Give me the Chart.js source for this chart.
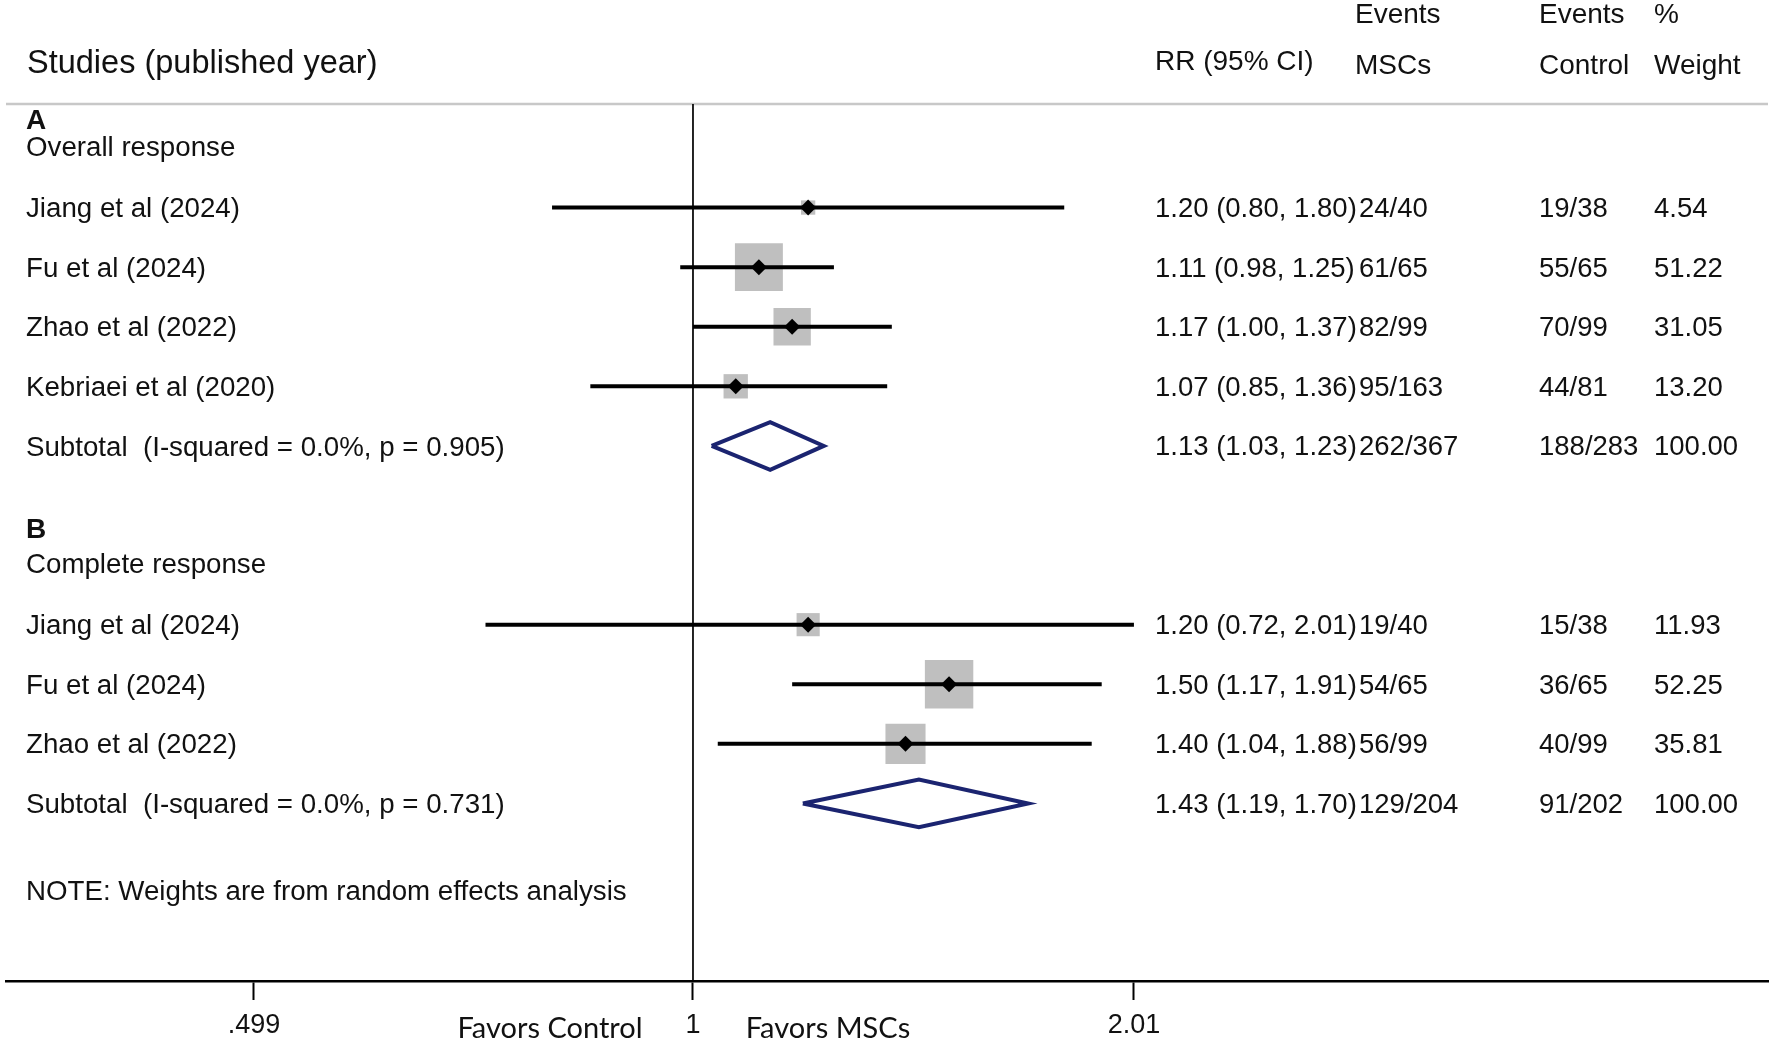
<!DOCTYPE html>
<html>
<head>
<meta charset="utf-8">
<script src="https://cdn.jsdelivr.net/npm/chart.js@4.4.1/dist/chart.umd.min.js"></script>
<style>
  html, body { margin: 0; padding: 0; background: #fff; }
  #wrap { width: 1772px; height: 1043px; position: relative; }
</style>
</head>
<body>
<div id="wrap"><canvas id="forest"></canvas></div>
<script>
// A - overall response
const studiesA = ['Jiang et al (2024)', 'Fu et al (2024)', 'Zhao et al (2022)', 'Kebriaei et al (2020)'];
const rrA = [1.20, 1.11, 1.17, 1.07];
const lowA = [0.80, 0.98, 1.00, 0.85];
const highA = [1.80, 1.25, 1.37, 1.36];
const mscA = ['24/40', '61/65', '82/99', '95/163'];
const ctrlA = ['19/38', '55/65', '70/99', '44/81'];
const weightA = [4.54, 51.22, 31.05, 13.20];

// B - complete response
const studiesB = ['Jiang et al (2024)', 'Fu et al (2024)', 'Zhao et al (2022)'];
const rrB = [1.20, 1.50, 1.40];
const lowB = [0.72, 1.17, 1.04];
const highB = [2.01, 1.91, 1.88];
const mscB = ['19/40', '54/65', '56/99'];
const ctrlB = ['15/38', '36/65', '40/99'];
const weightB = [11.93, 52.25, 35.81];

// pooled (subtotal) results, one per group
const groupLetters = ['A', 'B'];
const groupTitles = ['Overall response', 'Complete response'];
const pooledRR = [1.13, 1.43];
const pooledLow = [1.03, 1.19];
const pooledHigh = [1.23, 1.70];
const pooledMsc = ['262/367', '129/204'];
const pooledCtrl = ['188/283', '91/202'];
const i2 = [0.0, 0.0];
const pHet = [0.905, 0.731];

// axis
const xTicks = [0.499, 1, 2.01];
const xTickLabels = ['.499', '1', '2.01'];
const xMin = 0.337, xMax = 5.485;
const yMin = 0.262, yMax = 14.98;

const FONT = "Arial, 'Liberation Sans', sans-serif";
const COL_LABEL = 26, COL_RR = 1155, COL_MSC = 1359, COL_CTRL = 1539, COL_WT = 1654;

// row layout
const groups = [
    { studies: studiesA, rr: rrA, low: lowA, high: highA, msc: mscA, ctrl: ctrlA, w: weightA, titleRow: 1, letterRow: 0.55 },
    { studies: studiesB, rr: rrB, low: lowB, high: highB, msc: mscB, ctrl: ctrlB, w: weightB, titleRow: 8, letterRow: 7.41 }
];
groups.forEach(g => {
    g.rows = g.studies.map((s, i) => g.titleRow + 1 + i);
    g.subRow = g.titleRow + g.studies.length + 1;
});
const noteRow = 13.5;

const fmt = v => v.toFixed(2);
const boxSide = w => 6.7 * Math.sqrt(w);

const datasets = [];

// reference line at RR = 1
datasets.push({
    type: 'line', order: 5,
    data: [{ x: 1, y: yMin }, { x: 1, y: yMax }],
    borderColor: '#000', borderWidth: 1.7, pointRadius: 0
});

groups.forEach((g, gi) => {
    // weight boxes
    datasets.push({
        type: 'scatter', order: 4,
        data: g.rr.map((v, i) => ({ x: v, y: g.rows[i] })),
        pointStyle: 'rect',
        pointRadius: g.w.map(w => boxSide(w) / Math.SQRT2),
        backgroundColor: '#bfbfbf', borderWidth: 0
    });
    // confidence intervals
    g.rr.forEach((v, i) => {
        datasets.push({
            type: 'line', order: 3,
            data: [{ x: g.low[i], y: g.rows[i] }, { x: g.high[i], y: g.rows[i] }],
            borderColor: '#000', borderWidth: 4, pointRadius: 0
        });
    });
    // point estimates
    datasets.push({
        type: 'scatter', order: 1,
        data: g.rr.map((v, i) => ({ x: v, y: g.rows[i] })),
        pointStyle: 'rectRot', pointRadius: 8,
        backgroundColor: '#000', borderWidth: 0
    });
    // pooled diamond
    const r = g.subRow, h = 0.4;
    datasets.push({
        type: 'line', order: 2,
        data: [
            { x: pooledLow[gi], y: r }, { x: pooledRR[gi], y: r - h },
            { x: pooledHigh[gi], y: r }, { x: pooledRR[gi], y: r + h },
            { x: pooledLow[gi], y: r }
        ],
        borderColor: '#1b2470', borderWidth: 4, pointRadius: 0,
        borderJoinStyle: 'miter', fill: false
    });
});

const textPlugin = {
    id: 'forestText',
    beforeDatasetsDraw(chart) {
        const { ctx, chartArea } = chart;
        ctx.save();
        ctx.strokeStyle = '#c8c8c8';
        ctx.lineWidth = 2.5;
        ctx.beginPath();
        ctx.moveTo(chartArea.left, chartArea.top);
        ctx.lineTo(chartArea.right, chartArea.top);
        ctx.stroke();
        ctx.restore();
    },
    afterDraw(chart) {
        const ctx = chart.ctx;
        const ys = chart.scales.y;
        const py = r => ys.getPixelForValue(r);
        ctx.save();
        ctx.fillStyle = '#111';
        ctx.textAlign = 'left';
        ctx.textBaseline = 'middle';

        // column headers
        ctx.font = '32.5px ' + FONT;
        ctx.fillText('Studies (published year)', 27, 64);
        ctx.font = '28px ' + FONT;
        ctx.fillText('RR (95% CI)', COL_RR, 62);
        ctx.fillText('Events', COL_MSC - 4, 15);
        ctx.fillText('MSCs', COL_MSC - 4, 66);
        ctx.fillText('Events', COL_CTRL, 15);
        ctx.fillText('Control', COL_CTRL, 66);
        ctx.fillText('%', COL_WT, 15);
        ctx.fillText('Weight', COL_WT, 66);

        groups.forEach((g, gi) => {
            ctx.font = 'bold 28px ' + FONT;
            ctx.fillText(groupLetters[gi], COL_LABEL, py(g.letterRow));
            ctx.font = '27.7px ' + FONT;
            ctx.fillText(groupTitles[gi], COL_LABEL, py(g.titleRow));
            g.studies.forEach((s, i) => {
                const y = py(g.rows[i]) + 2;
                ctx.font = '27.7px ' + FONT;
                ctx.fillText(s, COL_LABEL, y);
                ctx.font = '27.5px ' + FONT;
                ctx.fillText(fmt(g.rr[i]) + ' (' + fmt(g.low[i]) + ', ' + fmt(g.high[i]) + ')', COL_RR, y);
                ctx.fillText(g.msc[i], COL_MSC, y);
                ctx.fillText(g.ctrl[i], COL_CTRL, y);
                ctx.fillText(fmt(g.w[i]), COL_WT, y);
            });
            const y = py(g.subRow) + 2;
            ctx.font = '27.7px ' + FONT;
            ctx.fillText('Subtotal  (I-squared = ' + i2[gi].toFixed(1) + '%, p = ' + pHet[gi].toFixed(3) + ')', COL_LABEL, y);
            ctx.font = '27.5px ' + FONT;
            ctx.fillText(fmt(pooledRR[gi]) + ' (' + fmt(pooledLow[gi]) + ', ' + fmt(pooledHigh[gi]) + ')', COL_RR, y);
            ctx.fillText(pooledMsc[gi], COL_MSC, y);
            ctx.fillText(pooledCtrl[gi], COL_CTRL, y);
            ctx.fillText('100.00', COL_WT, y);
        });

        ctx.font = '27.7px ' + FONT;
        ctx.fillText('NOTE: Weights are from random effects analysis', COL_LABEL, py(noteRow));

        // direction labels under the axis
        ctx.font = "29px Lato, 'Open Sans', sans-serif";
        ctx.textAlign = 'center';
        ctx.fillText('Favors Control', 550, 1029);
        ctx.fillText('Favors MSCs', 828, 1029);
        ctx.restore();
    }
};

new Chart(document.getElementById('forest'), {
    type: 'scatter',
    data: { datasets: datasets },
    options: {
        responsive: true,
        maintainAspectRatio: false,
        animation: false,
        layout: { autoPadding: false, padding: { top: 104, left: 6, right: 4, bottom: 0 } },
        plugins: { legend: { display: false }, tooltip: { enabled: false } },
        scales: {
            x: {
                type: 'logarithmic',
                position: 'bottom',
                bounds: 'data',
                min: xMin,
                max: xMax,
                afterBuildTicks: axis => { axis.ticks = xTicks.map(v => ({ value: v })); },
                afterFit: axis => {
                    axis.height = 62;
                    axis.paddingLeft = 0;
                    axis.paddingRight = 0;
                },
                ticks: {
                    autoSkip: false,
                    maxRotation: 0,
                    padding: 9,
                    color: '#111',
                    font: { family: FONT, size: 27 },
                    callback: v => xTickLabels[xTicks.indexOf(v)]
                },
                grid: {
                    drawOnChartArea: false,
                    drawTicks: true,
                    tickLength: 19,
                    tickWidth: 2,
                    color: '#000'
                },
                border: { display: true, color: '#000', width: 2.5 }
            },
            y: {
                type: 'linear',
                display: false,
                reverse: true,
                min: yMin,
                max: yMax
            }
        }
    },
    plugins: [textPlugin]
});
</script>
</body>
</html>
